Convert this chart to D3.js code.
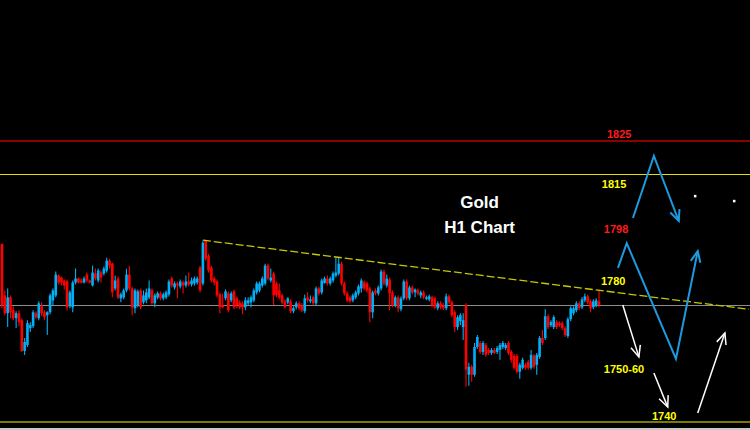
<!DOCTYPE html>
<html>
<head>
<meta charset="utf-8">
<script src="https://cdn.jsdelivr.net/npm/d3@7"></script>
<style>
html, body { margin: 0; padding: 0; background: #000; overflow: hidden; }
</style>
</head>
<body>
<div id="chart"></div>
<script>
// H1 candles (oldest first)
var open = [
	1793.9,1778.3,1772.9,1777.7,1773.8,1771.4,1772.9,1770.8,1761.5,1763.3,
	1768.4,1769.0,1772.9,1771.4,1775.0,1773.2,1772.3,1773.2,1776.8,1778.3,
	1784.3,1783.7,1782.8,1782.5,1775.0,1774.7,1782.2,1783.4,1782.8,1782.2,
	1784.6,1782.8,1781.3,1784.9,1782.8,1785.2,1784.9,1785.8,1788.8,1787.9,
	1780.4,1783.4,1777.4,1777.7,1779.8,1784.6,1780.4,1774.4,1775.3,1779.8,
	1776.2,1776.8,1777.7,1779.8,1775.9,1777.7,1778.9,1777.4,1777.7,1778.6,
	1783.4,1780.7,1781.9,1781.0,1782.2,1781.3,1782.5,1781.6,1781.9,1782.2,
	1786.7,1781.9,1794.8,1790.3,1786.7,1783.4,1782.5,1778.6,1775.3,1777.4,
	1778.9,1776.8,1779.5,1777.4,1776.2,1775.9,1774.7,1775.9,1776.2,1776.8,
	1779.2,1779.8,1781.3,1781.9,1787.3,1782.8,1784.9,1781.9,1779.8,1778.3,
	1776.5,1776.2,1776.5,1773.5,1774.7,1775.9,1775.3,1773.5,1777.7,1776.5,
	1777.7,1775.9,1780.4,1779.2,1782.0,1783.4,1781.9,1782.8,1784.3,1784.9,
	1787.9,1781.9,1778.9,1777.7,1776.8,1777.7,1778.9,1780.4,1782.2,1781.9,
	1780.4,1773.2,1779.8,1778.9,1780.4,1785.5,1781.3,1783.1,1779.2,1775.3,
	1777.7,1774.1,1777.4,1782.5,1777.4,1780.7,1779.2,1779.8,1778.3,1779.2,
	1777.4,1777.1,1777.7,1777.4,1774.4,1775.9,1775.3,1774.4,1778.0,1776.2,
	1773.2,1768.7,1770.5,1768.7,1775.3,1754.3,1756.7,1754.3,1762.7,1763.9,
	1761.2,1763.3,1761.8,1760.9,1761.8,1761.2,1761.8,1762.7,1762.4,1763.9,
	1761.2,1760.0,1760.0,1755.2,1756.4,1757.3,1758.2,1756.4,1760.0,1757.3,
	1759.7,1765.4,1765.4,1772.0,1769.3,1768.7,1770.2,1769.9,1769.9,1768.4,
	1766.0,1771.1,1772.9,1773.8,1775.9,1774.7,1776.8,1778.0,1776.5,1774.7,
	1775.3,1776.5
];
var high = [
	1793.9,1779.8,1780.4,1778.3,1775.0,1773.5,1773.8,1771.4,1765.4,1770.8,
	1770.2,1773.8,1773.5,1776.5,1776.2,1773.8,1773.5,1778.9,1780.4,1785.5,
	1784.6,1784.0,1783.1,1783.1,1779.8,1782.8,1786.4,1783.7,1783.4,1784.0,
	1785.2,1783.1,1787.3,1786.4,1786.4,1785.8,1787.0,1789.7,1789.4,1788.2,
	1784.3,1784.0,1779.2,1780.4,1786.4,1787.3,1781.0,1780.4,1780.1,1780.4,
	1779.8,1780.4,1782.8,1780.4,1778.9,1779.5,1779.5,1779.2,1779.8,1783.1,
	1784.0,1782.5,1782.5,1783.1,1782.8,1784.3,1785.2,1783.7,1784.0,1784.0,
	1787.3,1794.8,1795.1,1790.9,1787.3,1784.0,1783.1,1779.2,1778.9,1780.1,
	1779.5,1779.5,1780.1,1778.0,1776.8,1776.5,1777.7,1777.7,1778.3,1780.4,
	1782.5,1782.5,1784.0,1787.9,1787.9,1786.4,1785.5,1782.5,1781.9,1778.9,
	1777.1,1777.7,1777.1,1775.0,1776.5,1776.5,1775.9,1778.6,1779.2,1778.3,
	1778.3,1781.0,1781.0,1783.4,1784.0,1784.3,1784.0,1785.5,1789.7,1789.7,
	1788.5,1782.5,1779.5,1778.3,1778.9,1779.8,1781.6,1783.4,1782.8,1782.5,
	1781.0,1779.8,1780.4,1781.3,1786.1,1786.1,1784.6,1783.7,1779.8,1778.3,
	1778.3,1778.0,1783.1,1783.1,1781.3,1781.3,1780.4,1780.4,1779.8,1779.8,
	1778.3,1778.6,1778.3,1778.0,1776.5,1776.5,1775.9,1778.9,1778.6,1776.8,
	1773.8,1772.3,1772.9,1772.9,1775.9,1757.9,1757.3,1763.9,1766.3,1764.5,
	1764.5,1763.9,1762.4,1762.4,1762.4,1763.0,1763.9,1764.5,1763.9,1764.5,
	1761.8,1760.6,1760.6,1757.9,1759.4,1757.9,1758.8,1761.8,1760.6,1760.9,
	1766.0,1767.8,1774.1,1772.6,1770.8,1772.3,1770.8,1770.5,1770.5,1769.0,
	1771.7,1775.0,1775.0,1776.5,1776.5,1777.7,1778.9,1778.6,1777.1,1777.1,
	1777.4,1779.8
];
var low = [
	1774.4,1772.3,1768.7,1771.4,1770.8,1768.4,1769.0,1761.2,1760.3,1762.7,
	1767.2,1768.4,1771.1,1770.8,1772.0,1770.8,1766.3,1772.6,1775.3,1777.7,
	1781.6,1781.3,1780.1,1773.8,1774.4,1773.2,1781.6,1781.9,1781.9,1781.9,
	1782.2,1781.9,1781.0,1782.8,1782.2,1782.2,1784.3,1785.2,1786.4,1777.7,
	1779.8,1777.1,1776.2,1777.1,1779.2,1779.8,1772.3,1772.9,1774.7,1774.1,
	1775.6,1775.9,1777.1,1775.3,1774.7,1777.1,1776.8,1776.8,1777.1,1778.0,
	1780.7,1780.1,1777.4,1780.4,1778.9,1780.7,1781.0,1781.0,1781.3,1781.6,
	1779.2,1781.3,1788.8,1785.2,1782.2,1781.3,1777.7,1772.9,1774.4,1776.8,
	1773.2,1776.2,1774.1,1774.4,1774.1,1772.6,1773.8,1775.3,1774.7,1776.2,
	1778.6,1779.2,1780.7,1781.3,1782.8,1782.2,1775.3,1777.7,1777.1,1775.6,
	1774.4,1775.6,1772.9,1772.9,1774.1,1773.8,1773.2,1772.9,1776.2,1775.9,
	1775.3,1775.3,1778.3,1778.6,1781.9,1781.3,1781.3,1782.2,1783.7,1784.3,
	1781.3,1778.3,1776.2,1775.9,1776.2,1777.1,1778.3,1779.2,1779.8,1779.2,
	1770.2,1771.4,1778.3,1778.3,1779.8,1781.3,1780.7,1773.8,1774.7,1774.7,
	1773.2,1773.5,1776.8,1776.8,1776.8,1778.6,1777.7,1778.3,1777.4,1777.1,
	1776.8,1776.5,1774.7,1774.1,1773.8,1774.1,1773.8,1773.8,1775.6,1771.7,
	1767.2,1767.8,1769.3,1764.8,1750.7,1751.0,1752.2,1753.7,1762.1,1760.6,
	1760.3,1759.7,1760.3,1760.3,1760.6,1760.6,1758.8,1762.1,1761.8,1760.3,
	1757.9,1755.9,1754.6,1753.1,1755.9,1755.8,1755.8,1755.8,1756.1,1754.3,
	1759.1,1763.3,1764.8,1768.1,1768.7,1768.1,1768.1,1768.7,1767.8,1765.7,
	1765.4,1770.5,1772.3,1773.2,1773.8,1774.1,1776.2,1775.6,1773.2,1774.1,
	1774.7,1774.7
];
var close = [
	1775.3,1772.9,1777.7,1773.2,1771.4,1772.9,1770.2,1761.5,1764.2,1769.9,
	1769.3,1773.2,1771.7,1775.9,1772.9,1771.7,1773.2,1778.3,1779.8,1784.6,
	1782.2,1782.2,1781.3,1774.7,1779.2,1782.2,1783.4,1782.2,1782.2,1783.4,
	1782.8,1782.2,1785.2,1783.4,1785.8,1783.7,1786.4,1788.8,1787.3,1779.2,
	1782.8,1777.7,1778.6,1779.8,1784.6,1780.4,1774.7,1779.8,1779.5,1774.7,
	1778.3,1779.2,1780.4,1775.9,1778.3,1778.9,1777.4,1778.6,1779.2,1782.5,
	1781.3,1781.9,1781.3,1782.5,1781.3,1782.5,1781.6,1782.8,1783.4,1783.4,
	1779.8,1794.2,1789.4,1785.8,1782.8,1782.2,1778.3,1774.7,1774.7,1779.5,
	1773.8,1778.9,1774.7,1775.3,1774.7,1774.7,1776.8,1776.8,1777.7,1779.8,
	1781.9,1781.9,1783.4,1787.3,1783.4,1783.7,1778.3,1778.3,1777.7,1776.2,
	1774.7,1777.4,1773.5,1774.4,1775.9,1774.4,1773.8,1777.4,1776.8,1777.1,
	1775.9,1780.4,1778.9,1782.8,1783.4,1781.9,1783.4,1784.9,1785.2,1787.9,
	1781.9,1778.9,1776.8,1776.5,1778.3,1779.2,1781.0,1782.8,1780.4,1779.8,
	1773.2,1779.2,1778.9,1780.7,1785.5,1781.9,1783.4,1778.9,1775.3,1777.7,
	1774.4,1777.4,1782.5,1777.4,1780.7,1779.2,1780.1,1778.9,1779.2,1777.7,
	1777.7,1778.0,1775.3,1774.7,1775.9,1774.7,1774.4,1778.0,1776.2,1772.3,
	1768.7,1771.7,1772.3,1770.8,1755.9,1756.7,1754.3,1762.7,1765.7,1761.2,
	1763.9,1760.3,1760.9,1761.8,1760.9,1762.4,1763.3,1763.9,1763.3,1760.9,
	1758.8,1756.4,1755.2,1757.3,1758.8,1756.4,1756.4,1760.3,1756.7,1760.3,
	1765.4,1763.9,1772.0,1768.7,1770.2,1771.7,1768.7,1769.3,1768.4,1766.3,
	1771.1,1774.4,1774.4,1775.9,1774.4,1777.1,1778.0,1776.2,1774.4,1776.5,
	1776.8,1775.3
];

// horizontal levels
var levels = [1825, 1815, 1740];

// dashed trend line: [bar index, price]
var trendLine = [[71, 1795.0], [264, 1774.1]];

// scenario arrows: [bar index, price]
var blueUp = [[223.0, 1801.7], [230.4, 1820.5], [239.2, 1800.8]];
var blueZigzag = [[217.7, 1786.6], [220.8, 1794.1], [238.2, 1759.1], [245.9, 1791.7]];
var whiteArrows = [
	[[219.4, 1775.4], [225.1, 1759.7]],
	[[230.4, 1754.8], [235.3, 1744.5]],
	[[245.9, 1742.7], [255.5, 1766.9]]
];
var dots = [[244.9, 1808.4], [258.7, 1806.9]];

// labels: text, bar index, price
var labelText = ["1825", "1815", "1798", "1780", "1750-60", "1740"];
var labelIndex = [213.8, 212.0, 212.7, 211.7, 212.7, 229.7];
var labelPrice = [1825.9, 1810.8, 1797.2, 1781.4, 1754.8, 1740.6];
var titleLines = ["Gold", "H1 Chart"];
var titleIndex = 168.8;
var titlePrice = [1804.7, 1797.2];

var width = 750, height = 430;
var n = open.length;
var candleUp = "#00b0f8", candleDown = "#ff0000";
var arrowBlue = "#1c9be0";

var svg = d3.select("#chart").append("svg")
	.attr("width", width)
	.attr("height", height)
	.style("display", "block")
	.style("background", "#000");

var x = d3.scaleLinear().domain([0, n - 1]).range([2, 599]);
var y = d3.scaleLinear().domain([1740, 1825]).range([422, 141]);
var bodyW = 2.6;

// level lines, snapped to the pixel grid
var levelStyle = [
	{color: "#8b0000", w: 2, off: 0},
	{color: "#e0e000", w: 1, off: 0.5},
	{color: "#7a7a00", w: 2, off: 0}
];
svg.append("g").selectAll("line")
	.data(levels)
	.enter().append("line")
		.attr("x1", 0).attr("x2", width)
		.attr("y1", function(d, i) { return Math.round(y(d)) + levelStyle[i].off; })
		.attr("y2", function(d, i) { return Math.round(y(d)) + levelStyle[i].off; })
		.attr("stroke", function(d, i) { return levelStyle[i].color; })
		.attr("stroke-width", function(d, i) { return levelStyle[i].w; });

// last price line
svg.append("line")
	.attr("x1", 0).attr("x2", width)
	.attr("y1", Math.round(y(close[n - 1])) + 0.5)
	.attr("y2", Math.round(y(close[n - 1])) + 0.5)
	.attr("stroke", "#8c8c8c")
	.attr("stroke-width", 1);

// frame strip at the bottom
svg.append("rect")
	.attr("x", 0).attr("y", height - 2)
	.attr("width", width).attr("height", 2)
	.attr("fill", "#c8c8c8");

// candles
var candles = svg.append("g").selectAll("g")
	.data(d3.range(n))
	.enter().append("g");

candles.append("line")
	.attr("x1", function(i) { return x(i); })
	.attr("x2", function(i) { return x(i); })
	.attr("y1", function(i) { return y(high[i]); })
	.attr("y2", function(i) { return y(low[i]); })
	.attr("stroke", function(i) { return close[i] >= open[i] ? candleUp : candleDown; })
	.attr("stroke-width", 1.1);

candles.append("rect")
	.attr("x", function(i) { return x(i) - bodyW / 2; })
	.attr("width", bodyW)
	.attr("y", function(i) { return y(Math.max(open[i], close[i])); })
	.attr("height", function(i) { return Math.max(1.5, Math.abs(y(open[i]) - y(close[i]))); })
	.attr("fill", function(i) { return close[i] >= open[i] ? candleUp : candleDown; });

// trend line
var line = d3.line()
	.x(function(d) { return x(d[0]); })
	.y(function(d) { return y(d[1]); });

svg.append("path")
	.attr("d", line(trendLine))
	.attr("fill", "none")
	.attr("stroke", "#c8c800")
	.attr("stroke-width", 1.3)
	.attr("stroke-dasharray", "8,3");

// arrows with open heads
function arrow(pts, color, w) {
	svg.append("path")
		.attr("d", line(pts))
		.attr("fill", "none")
		.attr("stroke", color)
		.attr("stroke-width", w)
		.attr("stroke-linejoin", "miter");
	var a = pts[pts.length - 2], b = pts[pts.length - 1];
	var tx = x(b[0]), ty = y(b[1]);
	var ang = Math.atan2(ty - y(a[1]), tx - x(a[0]));
	var len = 12, spread = 0.42;
	var p1 = [tx - len * Math.cos(ang - spread), ty - len * Math.sin(ang - spread)];
	var p2 = [tx - len * Math.cos(ang + spread), ty - len * Math.sin(ang + spread)];
	svg.append("path")
		.attr("d", "M" + p1 + "L" + [tx, ty] + "L" + p2)
		.attr("fill", "none")
		.attr("stroke", color)
		.attr("stroke-width", w);
}

arrow(blueUp, arrowBlue, 2);
arrow(blueZigzag, arrowBlue, 2);
whiteArrows.forEach(function(a) { arrow(a, "#ffffff", 1.5); });

svg.append("g").selectAll("rect")
	.data(dots)
	.enter().append("rect")
		.attr("x", function(d) { return x(d[0]) - 1; })
		.attr("y", function(d) { return y(d[1]) - 1; })
		.attr("width", 2.5).attr("height", 2.5)
		.attr("fill", "#ffffff");

// level labels
var labelColor = ["#ff1a1a", "#ffff00", "#ff1a1a", "#ffff00", "#ffff00", "#ffff00"];
svg.append("g").selectAll("text")
	.data(labelText)
	.enter().append("text")
		.attr("x", function(d, i) { return x(labelIndex[i]); })
		.attr("y", function(d, i) { return y(labelPrice[i]); })
		.attr("fill", function(d, i) { return labelColor[i]; })
		.style("font-family", "'Liberation Sans', Arial, sans-serif")
		.style("font-weight", "bold")
		.style("font-size", "11px")
		.text(function(d) { return d; });

// title
svg.append("g").selectAll("text")
	.data(titleLines)
	.enter().append("text")
		.attr("x", x(titleIndex))
		.attr("y", function(d, i) { return y(titlePrice[i]); })
		.attr("text-anchor", "middle")
		.attr("fill", "#ffffff")
		.style("font-family", "'Liberation Sans', Arial, sans-serif")
		.style("font-weight", "bold")
		.style("font-size", "17px")
		.text(function(d) { return d; });
</script>
</body>
</html>
